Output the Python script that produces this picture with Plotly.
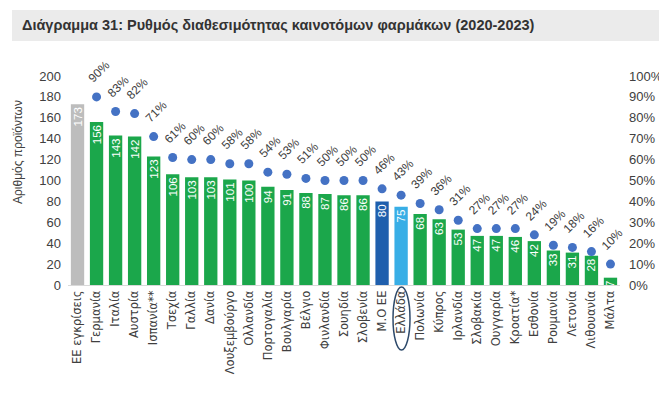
import plotly.graph_objects as go

categories = ["ΕΕ εγκρίσεις", "Γερμανία", "Ιταλία", "Αυστρία", "Ισπανία**", "Τσεχία", "Γαλλία",
              "Δανία", "Λουξεμβούργο", "Ολλανδία", "Πορτογαλία", "Βουλγαρία", "Βέλγιο",
              "Φινλανδία", "Σουηδία", "Σλοβενία", "Μ.Ο ΕΕ", "Ελλάδα", "Πολωνία", "Κύπρος",
              "Ιρλανδία", "Σλοβακία", "Ουγγαρία", "Κροατία*", "Εσθονία", "Ρουμανία",
              "Λετονία", "Λιθουανία", "Μάλτα"]
products = [173, 156, 143, 142, 123, 106, 103, 103, 101, 100, 94, 91, 88, 87, 86, 86,
            80, 75, 68, 63, 53, 47, 47, 46, 42, 33, 31, 28, 7]
rate_categories = categories[1:]
rates = [90, 83, 82, 71, 61, 60, 60, 58, 58, 54, 53, 51, 50, 50, 50, 46, 43, 39, 36,
         31, 27, 27, 27, 24, 19, 18, 16, 10]
left_ticks = list(range(0, 201, 20))
right_ticks = list(range(0, 101, 10))

GREEN = "#1BA74B"
bar_colors = []
for c in categories:
    if c == "ΕΕ εγκρίσεις":
        bar_colors.append("#BDBDBD")
    elif c == "Μ.Ο ΕΕ":
        bar_colors.append("#1F5FAD")
    elif c == "Ελλάδα":
        bar_colors.append("#38AEE6")
    else:
        bar_colors.append(GREEN)

FONT = "Liberation Sans"
TICKFONT = "DejaVu Sans"
OFF = 8  # page body margin offset
W, H = 667 - OFF, 393 - OFF
# plot area in reference page pixels
PL, PR, PT, PB = 68, 620, 76, 285
L, R, T, B = PL - OFF, W - (PR - OFF), PT - OFF, H - (PB - OFF)
pw, ph = PR - PL, PB - PT

def px(x):
    return (x - PL) / pw

def py(y):
    return (PB - y) / ph

fig = go.Figure()
fig.add_trace(go.Bar(
    x=categories, y=products, marker=dict(color=bar_colors, line=dict(width=0)),
    text=[str(v) for v in products], textposition="inside", insidetextanchor="end",
    textangle=-90, constraintext="none",
    textfont=dict(color="white", size=11.5, family=FONT),
    showlegend=False, cliponaxis=False,
))
fig.add_trace(go.Scatter(
    x=rate_categories, y=rates, mode="markers", yaxis="y2",
    marker=dict(color="#4472C4", size=9), showlegend=False, cliponaxis=False,
))

annotations = []
for c, r in zip(rate_categories, rates):
    annotations.append(dict(
        x=c, y=r, xref="x", yref="y2", text=f"{r}%", showarrow=False,
        textangle=-45, xshift=2, yshift=25,
        font=dict(size=12, color="#404040", family=FONT),
    ))

annotations.append(dict(
    x=px(18), y=py(152), xref="paper", yref="paper", text="Αριθμός προϊόντων",
    showarrow=False, textangle=-90, font=dict(size=12, color="#404040", family=FONT),
    xanchor="center", yanchor="middle",
))
annotations.append(dict(
    x=px(20), y=py(25), xref="paper", yref="paper",
    text="<b>Διάγραμμα 31: Ρυθμός διαθεσιμότητας καινοτόμων φαρμάκων (2020-2023)</b>",
    showarrow=False, xanchor="left", yanchor="middle",
    font=dict(size=14.5, color="#333333", family=FONT),
))

shapes = [
    dict(type="rect", xref="paper", yref="paper", x0=px(12), x1=px(660),
         y0=py(41), y1=py(10), fillcolor="#EBEBEB", line=dict(width=0), layer="below"),
    dict(type="circle", xref="paper", yref="paper", x0=px(393), x1=px(410),
         y0=py(350), y1=py(287), line=dict(color="#2E4A6B", width=1.5)),
]

fig.update_layout(
    width=W, height=H, margin=dict(l=L, r=R, t=T, b=B),
    paper_bgcolor="white", plot_bgcolor="white",
    bargap=0.3,
    xaxis=dict(tickangle=-90, tickfont=dict(size=11.5, color="#404040", family=TICKFONT),
               showline=True, linecolor="#D9D9D9", linewidth=1, ticks="",
               range=[-0.5, len(categories) - 0.5],
               showgrid=False, automargin=False),
    yaxis=dict(range=[0, 200], tickvals=left_ticks, showgrid=False, zeroline=False,
               tickfont=dict(size=13, color="#404040", family=FONT), automargin=False,
               ticklabelstandoff=6),
    yaxis2=dict(range=[0, 100], tickvals=right_ticks, ticktext=[f"{t}%" for t in right_ticks],
                overlaying="y", side="right", showgrid=False, zeroline=False,
                tickfont=dict(size=13, color="#404040", family=FONT), automargin=False,
                ticklabelstandoff=8),
    annotations=annotations, shapes=shapes,
)

fig.write_html("out.html")
